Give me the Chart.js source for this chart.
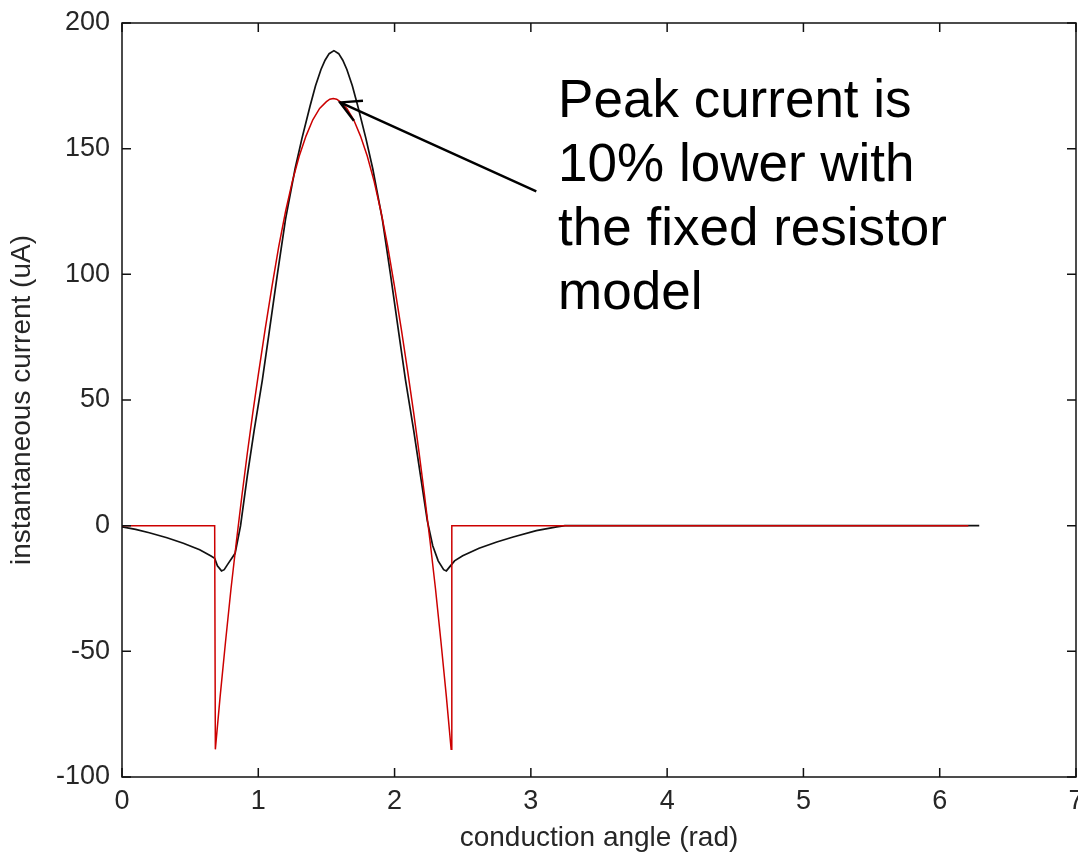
<!DOCTYPE html>
<html>
<head>
<meta charset="utf-8">
<title>instantaneous current</title>
<script src="https://cdn.jsdelivr.net/npm/chart.js@4.4.1/dist/chart.umd.min.js"></script>
<style>
  html, body { margin: 0; padding: 0; background: #fff; }
  #wrap { width: 1078px; height: 855px; }
</style>
</head>
<body>
<div id="wrap"><canvas id="currentChart" width="1078" height="855"></canvas></div>
<script>
// fixed resistor model: conduction angle (rad) / current (uA)
const fixedAngle = [0, 0.68, 0.685, 0.72, 0.76, 0.80, 0.84, 0.88, 0.92, 0.96,
  1.00, 1.05, 1.10, 1.15, 1.20, 1.25, 1.30, 1.35, 1.40, 1.45,
  1.50, 1.525, 1.55, 1.575, 1.60, 1.65, 1.70, 1.75, 1.80, 1.85, 1.90, 1.95,
  2.00, 2.05, 2.10, 2.14, 2.18, 2.22, 2.26, 2.30, 2.34, 2.38,
  2.415, 2.42, 6.21];
const fixedCurrent = [0, 0, -89, -68, -46, -25, -6, 12, 29, 45,
  60, 78, 95, 111, 125, 137, 147, 155, 161.5, 166,
  168.7, 169.7, 170, 169.7, 168.7, 166, 161.5, 155, 147, 137, 125, 111,
  95, 78, 60, 45, 29, 12, -6, -25, -46, -68,
  -89, 0, 0];

// variable resistor model
const variableAngle = [0, 0.1, 0.2, 0.33, 0.45, 0.57, 0.65, 0.68, 0.70, 0.73,
  0.75, 0.78, 0.83, 0.87, 0.92, 0.97, 1.03, 1.08, 1.14, 1.20,
  1.27, 1.32, 1.38, 1.42, 1.46, 1.49, 1.52, 1.555, 1.59, 1.62, 1.65, 1.69, 1.73, 1.79,
  1.84, 1.91, 1.97, 2.03, 2.08, 2.14, 2.19, 2.24, 2.28, 2.32,
  2.36, 2.38, 2.41, 2.44, 2.50, 2.62, 2.75, 2.87, 3.04, 3.19,
  3.25, 6.29];
const variableCurrent = [-0.5, -1.5, -2.8, -4.8, -7, -9.6, -12, -13, -16, -18,
  -17.5, -15, -11, 0, 20, 38, 58, 77, 100, 122,
  142, 154, 167, 175, 181.5, 185.2, 187.8, 189, 187.8, 185.2, 181.5, 175, 167, 154,
  142, 122, 100, 77, 58, 38, 20, 2, -8, -14,
  -17.5, -18, -16, -14, -12, -9, -6.5, -4.5, -2, -0.5,
  0, 0];

const xTicks = [0, 1, 2, 3, 4, 5, 6, 7];
const yTicks = [-100, -50, 0, 50, 100, 150, 200];
const noteLines = ['Peak current is', '10% lower with', 'the fixed resistor', 'model'];

const axisFont = { family: '"Liberation Sans", Arial, sans-serif', size: 27 };
const titleFont = { family: '"Liberation Sans", Arial, sans-serif', size: 28 };
const textColor = '#262626';

function toPoints(xs, ys) {
  return xs.map((v, i) => ({ x: v, y: ys[i] }));
}

// axes box with inward ticks on all four sides, plus the arrow note
const boxAndNote = {
  id: 'boxAndNote',
  afterDatasetsDraw(chart) {
    const { ctx, chartArea: a, scales: { x, y } } = chart;
    ctx.save();
    ctx.strokeStyle = '#111';
    ctx.lineWidth = 1.5;
    ctx.strokeRect(a.left, a.top, a.right - a.left, a.bottom - a.top);
    ctx.beginPath();
    xTicks.forEach(v => {
      const px = x.getPixelForValue(v);
      ctx.moveTo(px, a.bottom); ctx.lineTo(px, a.bottom - 9);
      ctx.moveTo(px, a.top); ctx.lineTo(px, a.top + 9);
    });
    yTicks.forEach(v => {
      const py = y.getPixelForValue(v);
      ctx.moveTo(a.left, py); ctx.lineTo(a.left + 9, py);
      ctx.moveTo(a.right, py); ctx.lineTo(a.right - 9, py);
    });
    ctx.stroke();

    // arrow pointing at the fixed resistor peak
    const tx = x.getPixelForValue(1.6), ty = y.getPixelForValue(168.4);
    const fx = x.getPixelForValue(3.04), fy = y.getPixelForValue(133);
    const ang = Math.atan2(fy - ty, fx - tx);
    ctx.strokeStyle = '#000';
    ctx.lineWidth = 2.4;
    ctx.beginPath();
    ctx.moveTo(fx, fy); ctx.lineTo(tx, ty);
    ctx.moveTo(tx + 23 * Math.cos(ang - 0.5), ty + 23 * Math.sin(ang - 0.5));
    ctx.lineTo(tx, ty);
    ctx.lineTo(tx + 23 * Math.cos(ang + 0.5), ty + 23 * Math.sin(ang + 0.5));
    ctx.stroke();

    ctx.fillStyle = '#000';
    ctx.font = '53px "Liberation Sans", Arial, sans-serif';
    ctx.textAlign = 'left';
    ctx.textBaseline = 'alphabetic';
    const lx = x.getPixelForValue(3.2), ly = y.getPixelForValue(162.6);
    noteLines.forEach((t, i) => ctx.fillText(t, lx, ly + i * 64));
    ctx.restore();
  }
};

const ctx = document.getElementById('currentChart').getContext('2d');
const currentChart = new Chart(ctx, {
  type: 'line',
  data: {
    datasets: [{
      label: 'fixed resistor',
      data: toPoints(fixedAngle, fixedCurrent),
      borderColor: '#cc0000',
      borderWidth: 1.5,
      pointRadius: 0,
      tension: 0,
      fill: false
    }, {
      label: 'variable resistor',
      data: toPoints(variableAngle, variableCurrent),
      borderColor: '#111',
      borderWidth: 1.7,
      pointRadius: 0,
      tension: 0,
      fill: false
    }]
  },
  options: {
    responsive: false,
    animation: false,
    devicePixelRatio: 1,
    layout: { padding: { top: 23, right: 2, left: 0, bottom: 0 } },
    plugins: { legend: { display: false }, tooltip: { enabled: false } },
    scales: {
      x: {
        type: 'linear',
        min: 0,
        max: 7,
        afterBuildTicks: scale => { scale.ticks = xTicks.map(v => ({ value: v })); },
        afterFit: scale => { scale.height = 78; scale.paddingLeft = 0; scale.paddingRight = 0; },
        grid: { display: false, drawTicks: false },
        border: { display: false },
        ticks: { font: axisFont, color: textColor, padding: 8, maxRotation: 0, autoSkip: false },
        title: { display: true, text: 'conduction angle (rad)', font: titleFont, color: textColor, padding: { top: 0, bottom: 0 } }
      },
      y: {
        type: 'linear',
        min: -100,
        max: 200,
        afterBuildTicks: scale => { scale.ticks = yTicks.map(v => ({ value: v })); },
        afterFit: scale => { scale.width = 122; scale.paddingTop = 0; scale.paddingBottom = 0; },
        grid: { display: false, drawTicks: false },
        border: { display: false },
        ticks: { font: axisFont, color: textColor, padding: 12, autoSkip: false },
        title: { display: true, text: 'instantaneous current (uA)', font: titleFont, color: textColor, padding: { top: 5, bottom: 0 } }
      }
    }
  },
  plugins: [boxAndNote]
});
</script>
</body>
</html>
